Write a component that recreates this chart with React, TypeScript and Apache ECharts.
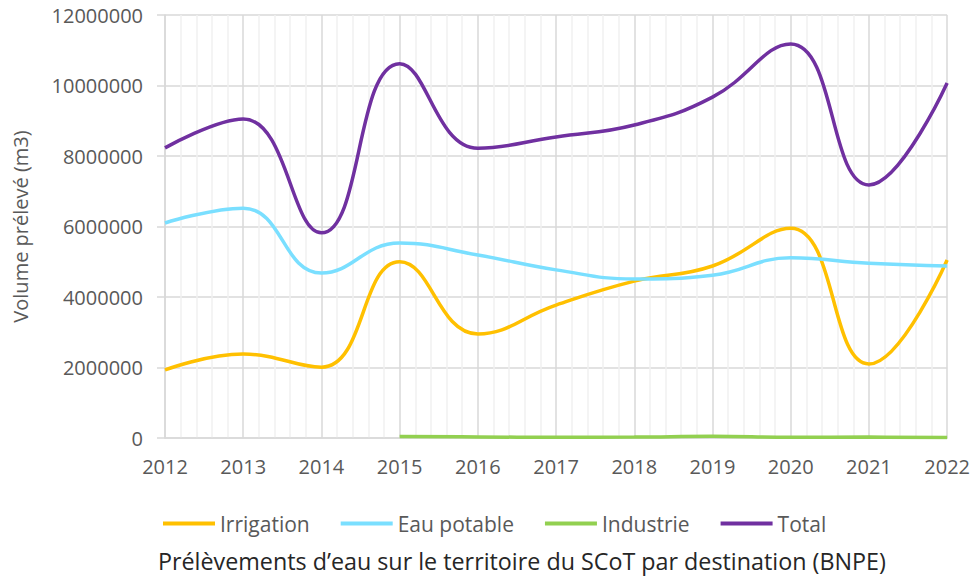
import React, { useEffect, useRef } from "react";
import * as echarts from "echarts";

const years = [2012, 2013, 2014, 2015, 2016, 2017, 2018, 2019, 2020, 2021, 2022];
const irrigation = [1930000, 2380000, 2010000, 5000000, 2950000, 3770000, 4450000, 4880000, 5950000, 2100000, 5050000];
const eauPotable = [6100000, 6520000, 4680000, 5530000, 5190000, 4770000, 4510000, 4620000, 5110000, 4960000, 4880000];
const industrie: (number | null)[] = [null, null, null, 40000, 30000, 20000, 25000, 50000, 20000, 25000, 15000];
const total = [8230000, 9050000, 5820000, 10620000, 8220000, 8540000, 8880000, 9670000, 11180000, 7180000, 10070000];
const yTicks = [0, 2000000, 4000000, 6000000, 8000000, 10000000, 12000000];

const FONT = "'Open Sans', sans-serif";

export default function App() {
  const ref = useRef<HTMLDivElement>(null);
  useEffect(() => {
    if (!ref.current) return;
    const chart = echarts.init(ref.current, undefined, { renderer: "svg" });
    const pairs = (arr: (number | null)[]) =>
      years.map((y, i) => [y, arr[i]]).filter((p) => p[1] !== null);
    const mk = (name: string, color: string, data: (number | null)[]) => ({
      name,
      type: "line",
      data: pairs(data),
      smooth: 0.45,
      showSymbol: false,
      symbol: "none",
      lineStyle: { color, width: 3.5 },
      itemStyle: { color },
    });
    chart.setOption({
      animation: false,
      textStyle: { fontFamily: FONT },
      title: {
        text: "Prélèvements d’eau sur le territoire du SCoT par destination (BNPE)",
        left: 158,
        top: 547,
        padding: 0,
        textStyle: { fontFamily: FONT, fontSize: 23.3, fontWeight: "normal", color: "#262626", lineHeight: 28 },
      },
      legend: {
        left: 158,
        top: 508,
        itemWidth: 52,
        itemHeight: 4,
        itemGap: 31,
        icon: "rect",
        textStyle: { fontFamily: FONT, fontSize: 21, color: "#595959" },
        data: ["Irrigation", "Eau potable", "Industrie", "Total"],
      },
      grid: { left: 165, right: 25, top: 15, bottom: 138, containLabel: false },
      xAxis: {
        type: "value",
        min: 2012,
        max: 2022,
        interval: 1,
        axisLine: { show: true, lineStyle: { color: "#D9D9D9", width: 1.5 } },
        axisTick: { show: false },
        minorTick: { show: false, splitNumber: 5 },
        minorSplitLine: { show: true, lineStyle: { color: "#F0F0F0", width: 1.5 } },
        splitLine: { show: true, lineStyle: { color: "#D9D9D9", width: 1.5 } },
        axisLabel: { fontFamily: FONT, fontSize: 20, color: "#595959", margin: 18, formatter: (v: number) => String(v) },
      },
      yAxis: {
        type: "value",
        min: yTicks[0],
        max: yTicks[yTicks.length - 1],
        interval: 2000000,
        name: "Volume prélevé (m3)",
        nameLocation: "middle",
        nameGap: 135,
        nameRotate: 90,
        nameTextStyle: { fontFamily: FONT, fontSize: 20, color: "#595959" },
        axisLine: { show: true, lineStyle: { color: "#D9D9D9", width: 1.5 } },
        axisTick: { show: true, length: 8, lineStyle: { color: "#D9D9D9", width: 1.5 } },
        splitLine: { show: true, lineStyle: { color: "#D9D9D9", width: 1.5 } },
        axisLabel: { fontFamily: FONT, fontSize: 20, color: "#595959", margin: 22, formatter: (v: number) => String(v) },
      },
      series: [
        mk("Irrigation", "#FFC000", irrigation),
        mk("Eau potable", "#7ADFFF", eauPotable),
        mk("Industrie", "#92D050", industrie),
        mk("Total", "#7030A0", total),
      ],
    });
    return () => chart.dispose();
  }, []);
  return <div ref={ref} style={{ width: 973, height: 576, position: "absolute", left: 0, top: 0 }} />;
}
